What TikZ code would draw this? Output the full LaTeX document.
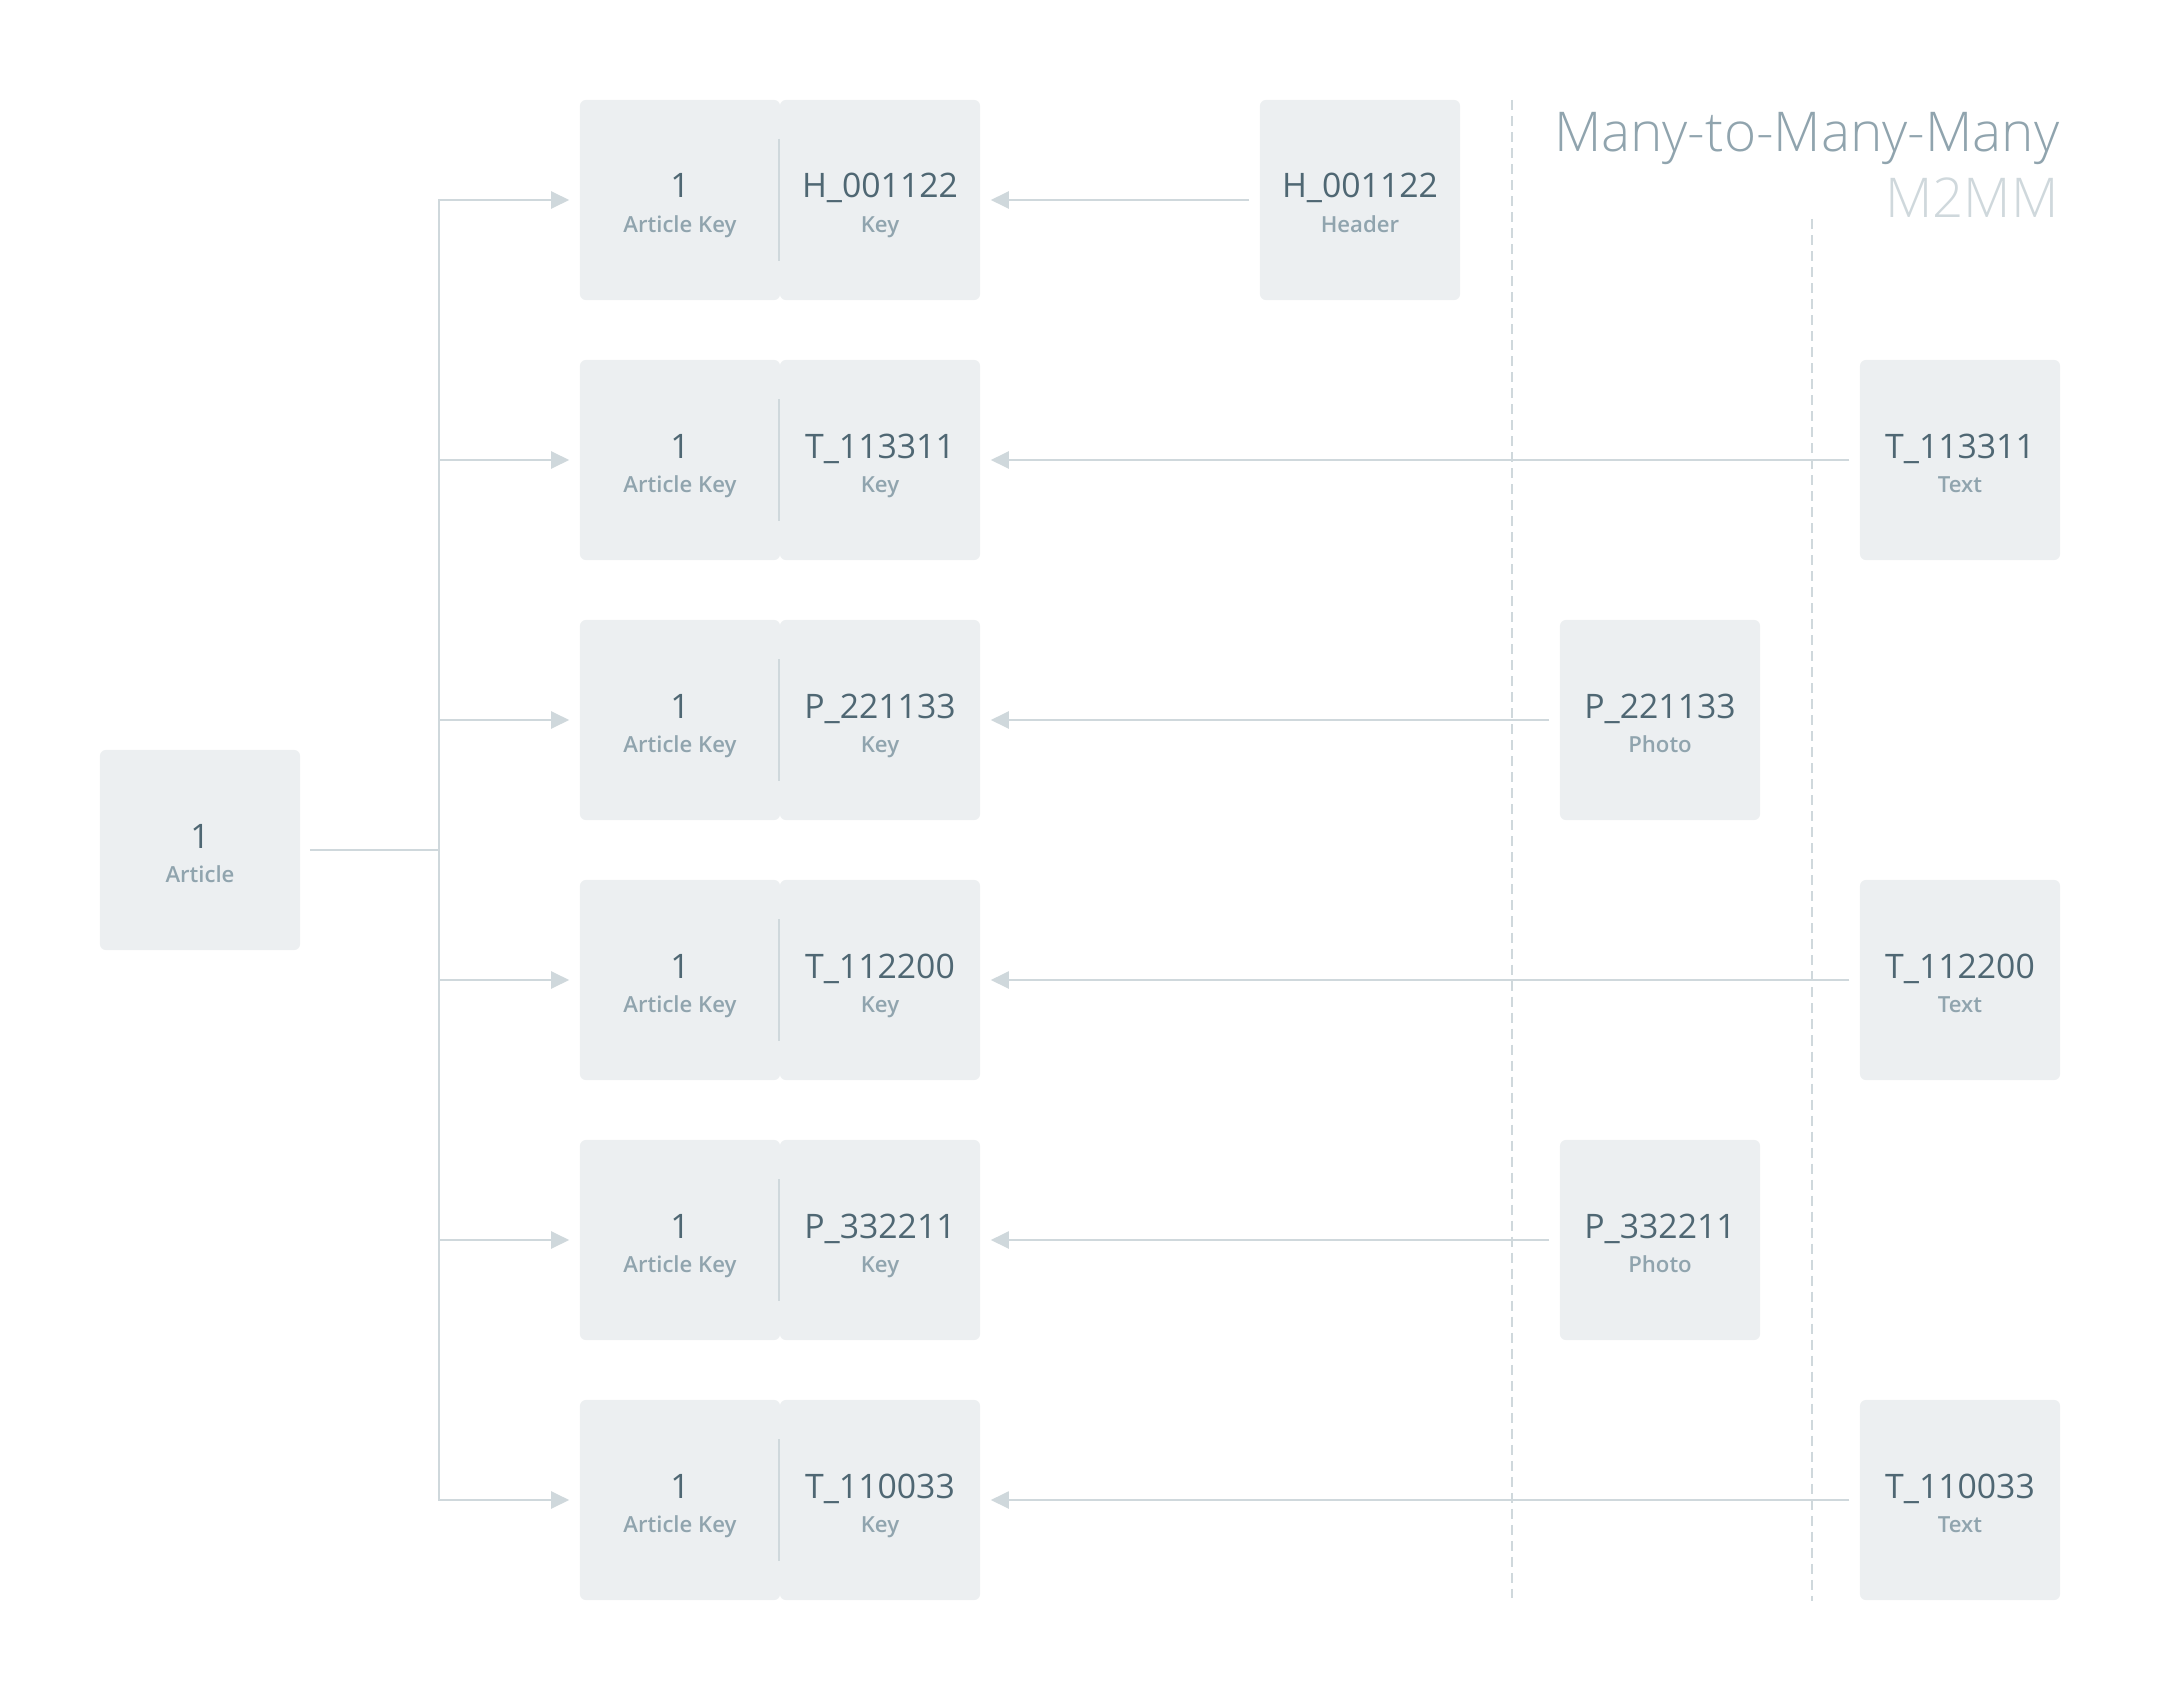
\documentclass[tikz,border=0pt]{standalone}
\usepackage{fontspec}
\usetikzlibrary{arrows.meta}
\setmainfont{Open Sans}
\IfFontExistsTF{Open Sans Light}{\newfontfamily\lightfont{Open Sans Light}}{\newfontfamily\lightfont{Open Sans}}
\IfFontExistsTF{Open Sans SemiBold}{\newfontfamily\medfont{Open Sans SemiBold}}{%
  \IfFontExistsTF{Open Sans Semibold}{\newfontfamily\medfont{Open Sans Semibold}}{\newfontfamily\medfont{Open Sans}}}
\definecolor{boxfill}{HTML}{ECEFF1}
\definecolor{maintext}{HTML}{4F6773}
\definecolor{labtext}{HTML}{90A4AE}
\definecolor{linec}{HTML}{CFD8DC}
\definecolor{faint}{HTML}{CFD8DC}
\tikzset{
  box/.style={fill=boxfill, rounded corners=0.06cm, minimum width=2cm, minimum height=2cm, inner sep=0pt, draw=none},
  mainlbl/.style={font=\fontsize{9.6}{10}\selectfont, text=maintext, anchor=base, inner sep=0pt},
  sublbl/.style={font=\medfont\fontsize{6.3}{7}\selectfont, text=labtext, anchor=base, inner sep=0pt},
  conn/.style={draw=linec, line width=0.02cm},
  arr/.style={conn, -{Triangle[length=0.18cm,width=0.17cm]}},
  divider/.style={draw=linec, line width=0.02cm},
  guide/.style={draw=linec, line width=0.02cm, dash pattern=on 0.1cm off 0.06cm},
  titlelbl/.style={font=\lightfont\fontsize{15.6}{17}\selectfont, anchor=base east, inner sep=0pt}
}
\begin{document}
\begin{tikzpicture}[x=0.01cm, y=-0.01cm]
\useasboundingbox (0,0) rectangle (2160,1700);

% guides
\coordinate (d1t) at (1512,100);
\coordinate (d1b) at (1512,1598);
\coordinate (d2t) at (1812,219);
\coordinate (d2b) at (1812,1601);
\draw[guide] (d1t) -- (d1b);
\draw[guide] (d2t) -- (d2b);

% title
\node[titlelbl, text=labtext] (title) at (2060,152) {Many-to-Many-Many};
\node[titlelbl, text=faint] (abbr) at (2059,218) {M2MM};

% article
\node[box] (art) at (200,850) {};
\node[mainlbl] (art-m) at (200,848) {1};
\node[sublbl] (art-s) at (200,882) {Article};

% trunk
\coordinate (tk) at (439,850);
\coordinate (tk1) at (439,200);
\coordinate (tk6) at (439,1500);
\draw[conn, shorten <=0.09cm] (art.east) -- (tk);
\draw[conn, line cap=rect] (tk1) -- (tk6);

\foreach \i/\k/\sx/\st in {1/H\_001122/1360/Header, 2/T\_113311/1960/Text, 3/P\_221133/1660/Photo, 4/T\_112200/1960/Text, 5/P\_332211/1660/Photo, 6/T\_110033/1960/Text}{
  \pgfmathsetmacro\yc{200+260*(\i-1)}
  \node[box] (kl\i) at (680,\yc) {};
  \node[box] (kr\i) at (880,\yc) {};
  \coordinate (dv\i a) at (779,\yc-61);
  \coordinate (dv\i b) at (779,\yc+61);
  \draw[divider] (dv\i a) -- (dv\i b);
  \node[mainlbl] (kl\i-m) at (680,\yc-2) {1};
  \node[sublbl] (kl\i-s) at (680,\yc+32) {Article Key};
  \node[mainlbl] (kr\i-m) at (880,\yc-2) {\k};
  \node[sublbl] (kr\i-s) at (880,\yc+32) {Key};
  \node[box] (s\i) at (\sx,\yc) {};
  \node[mainlbl] (s\i-m) at (\sx,\yc-2) {\k};
  \node[sublbl] (s\i-s) at (\sx,\yc+32) {\st};
  \coordinate (br\i) at (439,\yc);
  \draw[arr, shorten >=0.1cm] (br\i) -- (kl\i.west);
  \draw[arr, shorten <=0.1cm, shorten >=0.1cm] (s\i.west) -- (kr\i.east);
}
\end{tikzpicture}
\end{document}
